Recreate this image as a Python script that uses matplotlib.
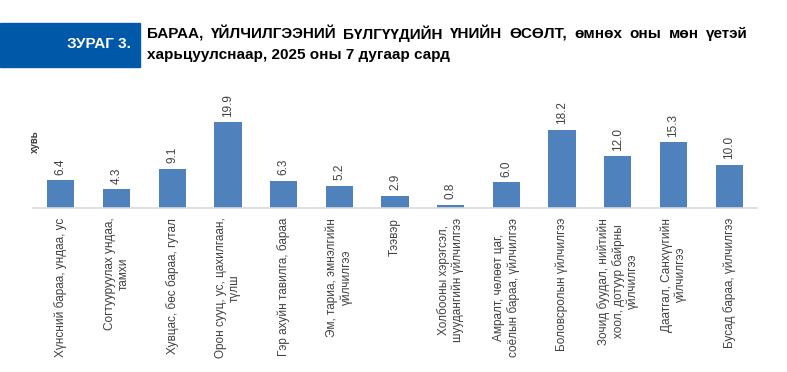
import numpy as np
import matplotlib.pyplot as plt

# data
categories = [
    "Хүнсний бараа, ундаа, ус",
    "Согтууруулах ундаа,\nтамхи",
    "Хувцас, бөс бараа, гутал",
    "Орон сууц, ус, цахилгаан,\nтүлш",
    "Гэр ахуйн тавилга, бараа",
    "Эм, тариа, эмнэлгийн\nүйлчилгээ",
    "Тээвэр",
    "Холбооны хэрэгсэл,\nшуудангийн үйлчилгээ",
    "Амралт, чөлөөт цаг,\nсоёлын бараа, үйлчилгээ",
    "Боловсролын үйлчилгээ",
    "Зочид буудал, нийтийн\nхоол, дотуур байрны\nүйлчилгээ",
    "Даатгал, Санхүүгийн\nүйлчилгээ",
    "Бусад бараа, үйлчилгээ",
]
values = [6.4, 4.3, 9.1, 19.9, 6.3, 5.2, 2.9, 0.8, 6.0, 18.2, 12.0, 15.3, 10.0]

fig_title_tag = "ЗУРАГ 3."
title_line1 = "БАРАА, ҮЙЛЧИЛГЭЭНИЙ БҮЛГҮҮДИЙН ҮНИЙН ӨСӨЛТ, өмнөх оны мөн үетэй"
title_line2 = "харьцуулснаар, 2025 оны 7 дугаар сард"
y_unit = "хувь"

W, H = 787, 372
bar_color = "#4F81BD"
text_gray = "#404040"
plain = ["Liberation Sans", "DejaVu Sans"]

fig = plt.figure(figsize=(W / 100, H / 100), dpi=100)

# header box
fig.patches.append(plt.Rectangle((0, 1 - 67 / H), 140 / W, 44 / H,
                                 transform=fig.transFigure, color="#0058A8",
                                 zorder=0))
fig.text(131 / W, 1 - 44 / H, fig_title_tag, color="white", fontsize=11,
         fontweight="bold", family=plain, ha="right", va="center")

# justified first title line
renderer = fig.canvas.get_renderer()
words = title_line1.split(" ")
x0, x1 = 147 / W, 748 / W
texts = [fig.text(0, 1 - 34 / H, w, fontsize=11, fontweight="bold",
                  family=plain, ha="left", va="center", color="black")
         for w in words]
widths = [t.get_window_extent(renderer).width / W for t in texts]
gap = (x1 - x0 - sum(widths)) / (len(words) - 1)
x = x0
for t, w in zip(texts, widths):
    t.set_x(x)
    x += w + gap
fig.text(x0, 1 - 55 / H, title_line2, fontsize=11, fontweight="bold",
         family=plain, ha="left", va="center", color="black")

# chart
ax = fig.add_axes([33 / W, 1 - 208 / H, 724 / W, 118 / H])
pos = np.arange(len(values))
bars = ax.bar(pos, values, width=0.49, color=bar_color, zorder=2)
ax.set_xlim(-0.5, len(values) - 0.5)
ax.set_ylim(0, 118 / 4.31)

for b, v in zip(bars, values):
    ax.annotate(f"{v:.1f}", (b.get_x() + b.get_width() / 2, v),
                xytext=(0, 4), textcoords="offset points", rotation=90,
                ha="center", va="bottom", fontsize=8.5, color=text_gray,
                family=plain)

ax.set_xticks(pos)
ax.set_xticklabels(categories, rotation=90, rotation_mode="anchor",
                   ha="right", va="center", multialignment="center",
                   fontsize=8.5, color=text_gray, family=plain)
ax.tick_params(axis="x", length=0, pad=7)
ax.set_yticks([])
for s in ["top", "right", "left"]:
    ax.spines[s].set_visible(False)
ax.spines["bottom"].set_color("#D9D9D9")
ax.spines["bottom"].set_linewidth(1.2)

fig.text(35 / W, 1 - 142 / H, y_unit, rotation=90, fontsize=7,
         fontweight="bold", color=text_gray, family=plain,
         ha="center", va="center")

fig.savefig("out.png", dpi=100)
